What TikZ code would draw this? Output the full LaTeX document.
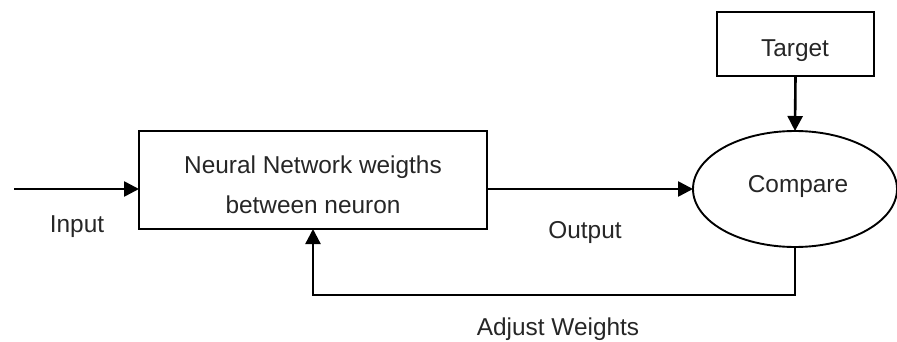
\documentclass[tikz,border=0pt]{standalone}
\usepackage{fontspec}
\setmainfont{Liberation Sans}
\usetikzlibrary{arrows.meta,shapes.geometric}
\begin{document}
\begin{tikzpicture}[x=1pt,y=-1pt,
  every node/.style={font=\fontsize{24.4}{40}\selectfont, text=black!85},
  block/.style={draw, line width=1.9pt, inner sep=0pt, outer sep=0pt},
  label/.style={anchor=base, inner sep=0pt},
  flow/.style={line width=2.6pt, -{Triangle[length=15pt,width=15pt]}},
]
\useasboundingbox (0,0) rectangle (897,342);

% blocks
\node[block, minimum width=348pt, minimum height=98pt] (nn) at (313,180) {};
\node[block, minimum width=157pt, minimum height=64pt] (tgt) at (795.5,44) {};
\node[block, ellipse, minimum width=204pt, minimum height=116pt] (cmp) at (795,189) {};

% texts
\node[label] (nn1) at (313,173) {Neural Network weigths};
\node[label] (nn2) at (313,213) {between neuron};
\node[label] (tgtl) at (795,57) {Target};
\node[label] (cmpl) at (798,193) {Compare};
\node[label] (inl) at (77,232) {Input};
\node[label] (outl) at (585,238) {Output};
\node[label] (adjl) at (558,335) {Adjust Weights};

% connectors
\coordinate (src) at (14,189);
\draw[flow] (src) -- (src -| nn.west);
\draw[flow] (nn.east |- cmp.west) -- (cmp.west);
\draw[flow] (tgt.south) -- (cmp.north);
\draw[flow, line width=2.3pt] (cmp.south) -- ++(0,48) -| (nn.south);
\end{tikzpicture}
\end{document}
